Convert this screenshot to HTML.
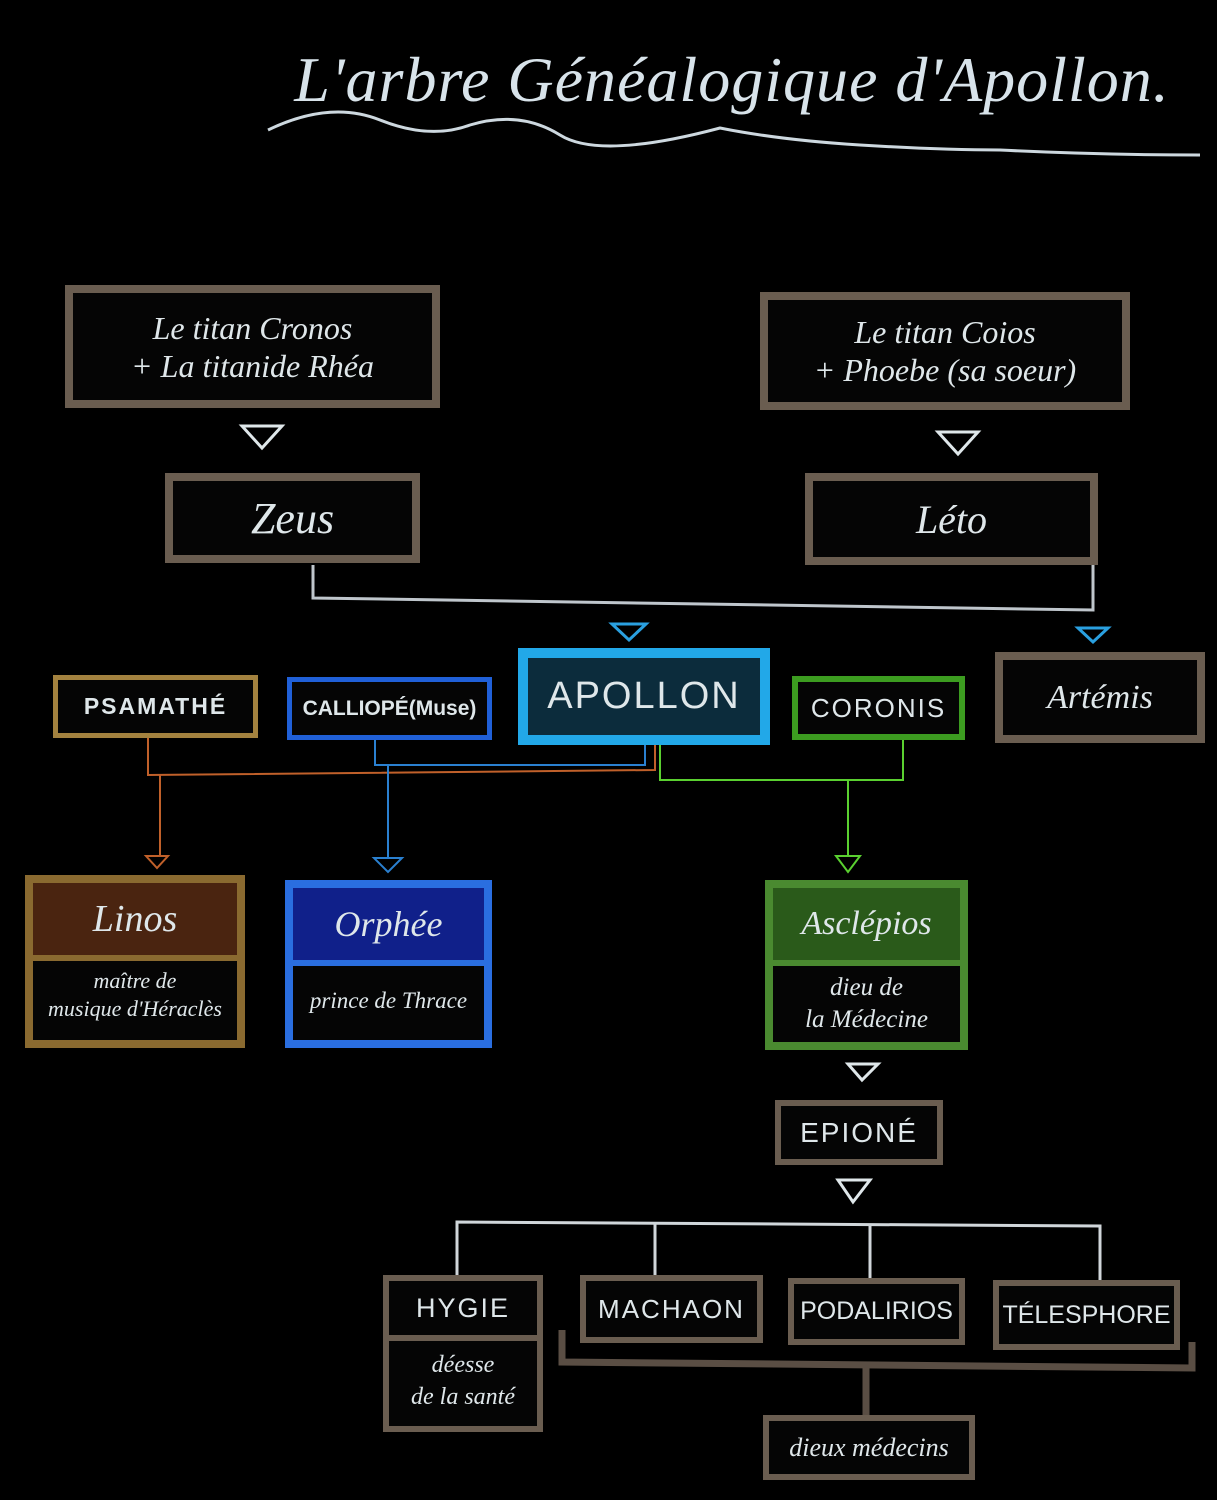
<!DOCTYPE html>
<html><head><meta charset="utf-8"><style>
html,body{margin:0;padding:0;background:#000;}
body{width:1217px;height:1500px;position:relative;overflow:hidden;font-family:"Liberation Serif",serif;color:#dfe7ea;}
.b{position:absolute;box-sizing:border-box;border:8px solid #6a5d50;background:#050505;display:flex;align-items:center;justify-content:center;text-align:center;font-style:italic;}
.t{position:absolute;text-align:center;font-style:italic;}
.c{font-family:"Liberation Sans",sans-serif;font-style:normal;letter-spacing:2px;}
svg{position:absolute;left:0;top:0;}
</style></head><body>
<div class="t" style="left:262px;top:40px;width:940px;font-size:64px;line-height:80px;white-space:nowrap;color:#d8e3ea;letter-spacing:1px;">L'arbre Généalogique d'Apollon.</div>
<svg width="1217" height="1500">
<path d="M268 130 Q330 100 380 120 T470 125 Q520 110 560 135 T720 128 Q780 140 860 145 T1000 150 Q1100 155 1200 155" stroke="#cdd8df" stroke-width="3" fill="none"/>
<g fill="none" stroke-width="3">
<polygon points="242,426 282,426 262,448" stroke="#dfe7ea"/>
<polygon points="938,432 978,432 958,454" stroke="#dfe7ea"/>
<polyline points="313,565 313,598 1093,610 1093,565" stroke="#bfc6cc"/>
<polygon points="612,624 646,624 629,640" stroke="#2aa0e0"/>
<polygon points="1078,628 1108,628 1093,642" stroke="#2aa0e0"/>
<polyline points="148,738 148,775 655,770 655,745" stroke="#c0602a" stroke-width="2"/>
<line x1="160" y1="775" x2="160" y2="856" stroke="#c0602a" stroke-width="2"/>
<polygon points="146,856 168,856 157,868" stroke="#c0602a" stroke-width="2"/>
<polyline points="375,740 375,765 645,765 645,745" stroke="#2a80d0" stroke-width="2"/>
<line x1="388" y1="765" x2="388" y2="858" stroke="#2a80d0" stroke-width="2"/>
<polygon points="374,858 402,858 388,872" stroke="#2a80d0" stroke-width="2"/>
<polyline points="660,745 660,780 903,780 903,740" stroke="#5ad030" stroke-width="2"/>
<line x1="848" y1="780" x2="848" y2="856" stroke="#5ad030" stroke-width="2"/>
<polygon points="836,856 860,856 848,872" stroke="#5ad030" stroke-width="2"/>
<polygon points="848,1064 878,1064 862,1080" stroke="#dfe7ea"/>
<polygon points="838,1180 870,1180 853,1202" stroke="#dfe7ea"/>
<polyline points="457,1275 457,1222 1100,1226 1100,1280" stroke="#d0d6da"/>
<line x1="655" y1="1224" x2="655" y2="1275" stroke="#d0d6da"/>
<line x1="870" y1="1225" x2="870" y2="1278" stroke="#d0d6da"/>
<polyline points="562,1330 562,1362 1192,1368 1192,1342" stroke="#5a4e44" stroke-width="7"/>
<line x1="866" y1="1365" x2="866" y2="1416" stroke="#5a4e44" stroke-width="7"/>
</g></svg>
<div class="b" style="left:65px;top:285px;width:375px;height:123px;font-size:32px;line-height:38px;">Le titan Cronos<br>+ La titanide Rhéa</div>
<div class="b" style="left:760px;top:292px;width:370px;height:118px;font-size:32px;line-height:38px;">Le titan Coios<br>+ Phoebe (sa soeur)</div>
<div class="b" style="left:165px;top:473px;width:255px;height:90px;font-size:44px;">Zeus</div>
<div class="b" style="left:805px;top:473px;width:293px;height:92px;font-size:40px;">Léto</div>
<div class="b c" style="left:518px;top:648px;width:252px;height:97px;border-color:#22a8e8;border-width:10px;background:#0c2c3c;font-size:38px;">APOLLON</div>
<div class="b" style="left:995px;top:652px;width:210px;height:91px;font-size:34px;">Artémis</div>
<div class="b c" style="left:53px;top:675px;width:205px;height:63px;border-color:#a3823f;border-width:5px;font-size:23px;font-weight:bold;">PSAMATHÉ</div>
<div class="b c" style="left:287px;top:677px;width:205px;height:63px;border-color:#2060d8;border-width:5px;font-size:21px;letter-spacing:0;font-weight:bold;">CALLIOPÉ(Muse)</div>
<div class="b c" style="left:792px;top:676px;width:173px;height:64px;border-color:#3c9c20;border-width:6px;font-size:26px;">CORONIS</div>
<div class="b" style="left:25px;top:875px;width:220px;height:173px;border-color:#8a6a30;display:block;">
<div style="height:72px;background:#4a2410;font-size:38px;line-height:72px;">Linos</div>
<div style="border-top:6px solid #8a6a30;font-size:22px;line-height:28px;padding-top:6px;">maître de<br>musique d'Héraclès</div></div>
<div class="b" style="left:285px;top:880px;width:207px;height:168px;border-color:#2a6ee0;display:block;">
<div style="height:72px;background:#10208a;font-size:36px;line-height:72px;">Orphée</div>
<div style="border-top:6px solid #2a6ee0;font-size:23px;line-height:70px;">prince de Thrace</div></div>
<div class="b" style="left:765px;top:880px;width:203px;height:170px;border-color:#4a8a30;display:block;">
<div style="height:72px;background:#2a5a1a;font-size:34px;line-height:72px;">Asclépios</div>
<div style="border-top:6px solid #4a8a30;font-size:25px;line-height:32px;padding-top:6px;">dieu de<br>la Médecine</div></div>
<div class="b c" style="left:775px;top:1100px;width:168px;height:65px;border-width:6px;font-size:28px;">EPIONÉ</div>
<div class="b" style="left:383px;top:1275px;width:160px;height:157px;border-width:6px;display:block;">
<div class="c" style="height:54px;font-size:27px;line-height:54px;">HYGIE</div>
<div style="border-top:6px solid #6a5d50;font-size:24px;line-height:32px;padding-top:8px;">déesse<br>de la santé</div></div>
<div class="b c" style="left:580px;top:1275px;width:183px;height:68px;border-width:6px;font-size:26px;">MACHAON</div>
<div class="b c" style="left:788px;top:1278px;width:177px;height:67px;border-width:6px;font-size:25px;letter-spacing:0;">PODALIRIOS</div>
<div class="b c" style="left:993px;top:1280px;width:187px;height:70px;border-width:6px;font-size:25px;letter-spacing:0;">TÉLESPHORE</div>
<div class="b" style="left:763px;top:1415px;width:212px;height:65px;border-width:6px;font-size:26px;">dieux médecins</div>
</body></html>
